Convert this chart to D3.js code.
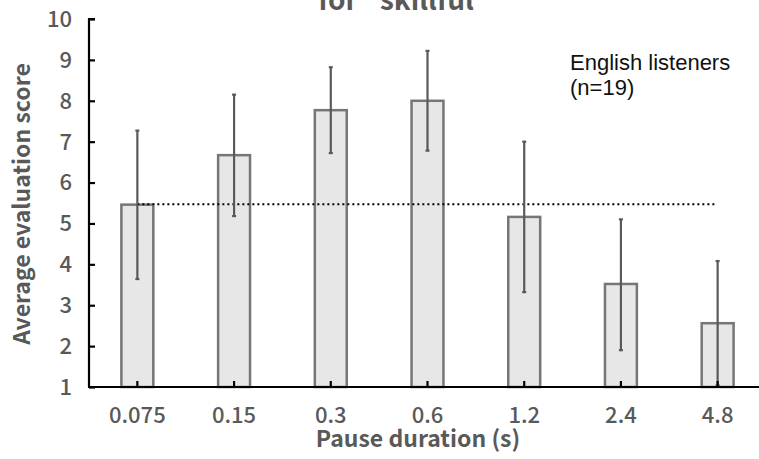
<!DOCTYPE html>
<html><head><meta charset="utf-8">
<script src="https://cdn.jsdelivr.net/npm/d3@7"></script>
<style>body{margin:0;background:#fff}svg{display:block}</style>
</head><body>
<svg id="c" width="759" height="459"></svg>
<script>
const categories = ["0.075","0.15","0.3","0.6","1.2","2.4","4.8"];
const means = [5.46, 6.67, 7.77, 8.00, 5.16, 3.52, 2.56];
const upper = [7.27, 8.15, 8.82, 9.22, 7.00, 5.10, 4.08];
const lower = [3.64, 5.18, 6.72, 6.78, 3.32, 1.90, 1.04];
const referenceLevel = 5.47;
const yTicks = [1,2,3,4,5,6,7,8,9,10];
const title = "for \u201Cskillful\u201D";
const note = ["English listeners", "(n=19)"];

const svg = d3.select("#c");
const x = d3.scaleBand().domain(categories).range([89, 766]).paddingInner(0.67).paddingOuter(0.335);
const y = d3.scaleLinear().domain([1, 10]).range([387, 19]);
const gray = "#595959";
const jpFont = "'Noto Sans CJK JP', 'Noto Sans', sans-serif";

// bars
svg.append("g").selectAll("rect").data(categories).join("rect")
  .attr("x", d => x(d)).attr("width", x.bandwidth())
  .attr("y", (d,i) => y(means[i])).attr("height", (d,i) => y(1) - y(means[i]))
  .attr("fill", "#e7e7e7").attr("stroke", "#767676").attr("stroke-width", 2.5);

// reference dotted line
svg.append("line")
  .attr("x1", x(categories[0]) + x.bandwidth()/2)
  .attr("x2", x(categories[categories.length-1]) + x.bandwidth()/2 - 2)
  .attr("y1", y(referenceLevel)).attr("y2", y(referenceLevel))
  .attr("stroke", "#000").attr("stroke-width", 2).attr("stroke-dasharray", "2,3");

// error bars
const eb = svg.append("g").attr("stroke", gray).attr("stroke-width", 2.2);
categories.forEach((c,i) => {
  const cx = x(c) + x.bandwidth()/2;
  eb.append("line").attr("x1", cx).attr("x2", cx).attr("y1", y(upper[i])).attr("y2", y(lower[i]));
  eb.append("line").attr("x1", cx-2).attr("x2", cx+2).attr("y1", y(upper[i])).attr("y2", y(upper[i]));
  eb.append("line").attr("x1", cx-2).attr("x2", cx+2).attr("y1", y(lower[i])).attr("y2", y(lower[i]));
});

// y axis
const yAxis = svg.append("g").attr("transform", "translate(89,0)")
  .call(d3.axisRight(y).tickValues(yTicks).tickSize(6).tickFormat(""));
yAxis.select(".domain").attr("stroke", "#000").attr("stroke-width", 2.2).attr("d", `M6,${y(10)}H0V${y(1)}`);
yAxis.selectAll(".tick line").attr("stroke", "#000").attr("stroke-width", 2.2);
svg.append("g").selectAll("text").data(yTicks).join("text")
  .attr("x", 72).attr("y", d => y(d)).attr("dy", "0.36em").attr("text-anchor", "end")
  .attr("font-family", jpFont).attr("font-weight", 500).attr("font-size", 22).attr("fill", gray).text(d => d);

// x axis
const xAxis = svg.append("g").attr("transform", `translate(0,${y(1)})`)
  .call(d3.axisTop(x).tickSize(6).tickSizeOuter(0).tickFormat(""));
xAxis.select(".domain").attr("stroke", "#000").attr("stroke-width", 2.2).attr("d", "M88,0H759");
xAxis.selectAll(".tick line").attr("stroke", "#000").attr("stroke-width", 2.2);
svg.append("g").selectAll("text").data(categories).join("text")
  .attr("x", d => x(d) + x.bandwidth()/2).attr("y", 423).attr("text-anchor", "middle")
  .attr("font-family", jpFont).attr("font-weight", 500).attr("font-size", 22).attr("fill", gray).text(d => d);

// axis titles
svg.append("text").attr("x", 418).attr("y", 447).attr("text-anchor", "middle")
  .attr("font-family", jpFont).attr("font-weight", "bold")
  .attr("font-size", 23).attr("fill", gray).text("Pause duration (s)");
svg.append("text").attr("transform", "translate(30,204) rotate(-90)").attr("text-anchor", "middle")
  .attr("font-family", jpFont).attr("font-weight", "bold")
  .attr("font-size", 23).attr("fill", gray).text("Average evaluation score");

// title (partially cut off at top, as in the source image)
svg.append("text").attr("x", 404).attr("y", 10).attr("text-anchor", "middle")
  .attr("font-family", jpFont).attr("font-weight", "bold")
  .attr("font-size", 28).attr("fill", gray).text(title);

// annotation
svg.append("g").selectAll("text").data(note).join("text")
  .attr("x", 570).attr("y", (d,i) => 70 + i*25)
  .attr("font-family", "'Liberation Sans', Arial, sans-serif").attr("font-size", 22).attr("fill", "#111").text(d => d);
</script>
</body></html>
